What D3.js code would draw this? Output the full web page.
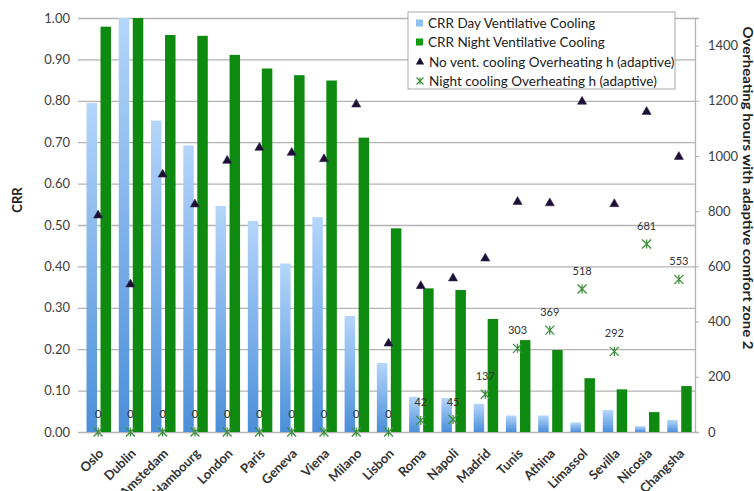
<!DOCTYPE html>
<html>
<head>
<meta charset="utf-8">
<script src="https://cdn.jsdelivr.net/npm/d3@7"></script>
<style>
  html, body { margin: 0; padding: 0; background: #fff; }
  svg { display: block; font-family: Lato, "Open Sans", sans-serif; }
</style>
</head>
<body>
<svg id="chart" width="754" height="491"></svg>
<script>
const cities = ["Oslo","Dublin","Amstedam","Hambourg","London","Paris","Geneva","Viena","Milano","Lisbon","Roma","Napoli","Madrid","Tunis","Athina","Limassol","Sevilla","Nicosia","Changsha"];
const crrDay = [0.795,1.00,0.752,0.692,0.546,0.510,0.407,0.519,0.280,0.167,0.085,0.082,0.068,0.040,0.040,0.023,0.053,0.014,0.029];
const crrNight = [0.979,1.00,0.959,0.957,0.911,0.878,0.862,0.849,0.711,0.492,0.347,0.343,0.273,0.222,0.198,0.130,0.103,0.048,0.111];
const ohNoVent = [785,535,933,825,983,1030,1012,989,1187,321,529,557,629,834,829,1197,826,1160,997];
const ohNight = [0,0,0,0,0,0,0,0,0,0,42,45,137,303,369,518,292,681,553];
const leftTicks = [0,0.1,0.2,0.3,0.4,0.5,0.6,0.7,0.8,0.9,1.0];
const rightTicks = [0,200,400,600,800,1000,1200,1400];
const legendLabels = ["CRR Day Ventilative Cooling","CRR Night Ventilative Cooling","No vent. cooling Overheating h (adaptive)","Night cooling Overheating h (adaptive)"];

const svg = d3.select("#chart");
const L = 82, R = 695, T = 18, B = 432;

const x0 = d3.scaleBand().domain(cities).range([L, R]).padding(0);
const x1 = d3.scaleBand().domain(["day","night"]).range([4.5, 29]).paddingInner(0.25);
const y = d3.scaleLinear().domain([0, 1]).range([B, T]);
const yR = d3.scaleLinear().domain([0, 1500]).range([B, T]);

const defs = svg.append("defs");
const grad = defs.append("linearGradient").attr("id","dayGrad")
  .attr("x1",0).attr("y1",0).attr("x2",0).attr("y2",1);
grad.append("stop").attr("offset","0%").attr("stop-color","#b4d6fb");
grad.append("stop").attr("offset","100%").attr("stop-color","#4b8fd9");

// gridlines (left axis)
const gAxisL = svg.append("g").attr("transform", `translate(${L},0)`)
  .call(d3.axisLeft(y).tickValues(leftTicks).tickFormat(d3.format(".2f"))
        .tickSize(-(R - L)).tickPadding(12));
gAxisL.select(".domain").remove();
gAxisL.selectAll(".tick line").attr("stroke","#b3b3b3").attr("stroke-width",1.3)
  .attr("x1", -4);
gAxisL.selectAll(".tick text").attr("fill","#404040").style("font-size","13px")
  .style("font-family","Lato, sans-serif");

// right axis
const gAxisR = svg.append("g").attr("transform", `translate(${R},0)`)
  .call(d3.axisRight(yR).tickValues(rightTicks).tickFormat(d3.format("d"))
        .tickSize(4).tickPadding(9));
gAxisR.select(".domain").attr("stroke","#b3b3b3").attr("stroke-width",1.3);
gAxisR.selectAll(".tick line").attr("stroke","#b3b3b3");
gAxisR.selectAll(".tick text").attr("fill","#404040").style("font-size","13px")
  .style("font-family","Lato, sans-serif");

// bars
const groups = svg.append("g").selectAll("g").data(cities).join("g")
  .attr("transform", d => `translate(${x0(d)},0)`);
groups.append("rect")
  .attr("x", x1("day")).attr("width", x1.bandwidth())
  .attr("y", (d,i) => y(crrDay[i])).attr("height", (d,i) => B - y(crrDay[i]))
  .attr("fill","url(#dayGrad)");
groups.append("rect")
  .attr("x", x1("night")).attr("width", x1.bandwidth())
  .attr("y", (d,i) => y(crrNight[i])).attr("height", (d,i) => B - y(crrNight[i]))
  .attr("fill","#0f8a10");

const cx = d => x0(d) + x0.bandwidth()/2;
const tri = d3.symbol().type(d3.symbolTriangle).size(36);

// triangles
svg.append("g").selectAll("path").data(cities).join("path")
  .attr("d", tri)
  .attr("transform", (d,i) => `translate(${cx(d)},${yR(ohNoVent[i])})`)
  .attr("fill","#1b1030").attr("stroke","#3a2a60").attr("stroke-width",0.6);

// star markers
function starPath(s) {
  return `M${-s},${-s}L${s},${s}M${-s},${s}L${s},${-s}M0,${-s}L0,${s}`;
}
svg.append("g").selectAll("path").data(cities).join("path")
  .attr("d", starPath(4.5))
  .attr("transform", (d,i) => `translate(${cx(d)},${yR(ohNight[i])})`)
  .attr("fill","none").attr("stroke","#3d8f3d").attr("stroke-width",1.3);

// data labels
svg.append("g").selectAll("text").data(cities).join("text")
  .attr("x", d => cx(d)).attr("y", (d,i) => yR(ohNight[i]) - 14)
  .attr("text-anchor","middle").style("font-size","11px").attr("fill","#333")
  .text((d,i) => ohNight[i]);

// x labels
svg.append("g").selectAll("text").data(cities).join("text")
  .attr("transform", d => `translate(${cx(d)+3},${451}) rotate(-45)`)
  .attr("text-anchor","end").attr("dy","0.35em")
  .style("font-size","13px").style("font-weight","bold").attr("fill","#333")
  .text(d => d);

// axis titles
svg.append("text").attr("transform","translate(22,200) rotate(-90)")
  .attr("text-anchor","middle").style("font-size","13px").style("font-weight","bold")
  .attr("fill","#222").text("CRR");
svg.append("text").attr("transform","translate(743,188) rotate(90)")
  .attr("text-anchor","middle").style("font-size","13.5px").style("font-weight","bold")
  .attr("textLength", 323).attr("lengthAdjust","spacingAndGlyphs")
  .attr("fill","#222").text("Overheating hours with adaptive comfort zone 2");

// legend
const lg = svg.append("g");
lg.append("rect").attr("x",408).attr("y",12).attr("width",267).attr("height",77)
  .attr("fill","#fff").attr("stroke","#a8a8a8").attr("stroke-width",1);
const rows = [23, 42, 62, 81];
lg.append("rect").attr("x",416).attr("y",rows[0]-3.5).attr("width",7).attr("height",7).attr("fill","#8ec0f2");
lg.append("rect").attr("x",416).attr("y",rows[1]-3.5).attr("width",7).attr("height",7).attr("fill","#0f9a10");
lg.append("path").attr("d", d3.symbol().type(d3.symbolTriangle).size(30))
  .attr("transform",`translate(420,${rows[2]})`).attr("fill","#1b1030");
lg.append("path").attr("d", starPath(3.5)).attr("transform",`translate(420,${rows[3]})`)
  .attr("fill","none").attr("stroke","#3d8f3d").attr("stroke-width",1.1);
lg.selectAll("text.lt").data(legendLabels).join("text").attr("class","lt")
  .attr("x", (d,i) => i < 2 ? 428 : 429).attr("y", (d,i) => rows[i]).attr("dy","0.35em")
  .style("font-size","13.5px").attr("fill","#222").text(d => d);
</script>
</body>
</html>
